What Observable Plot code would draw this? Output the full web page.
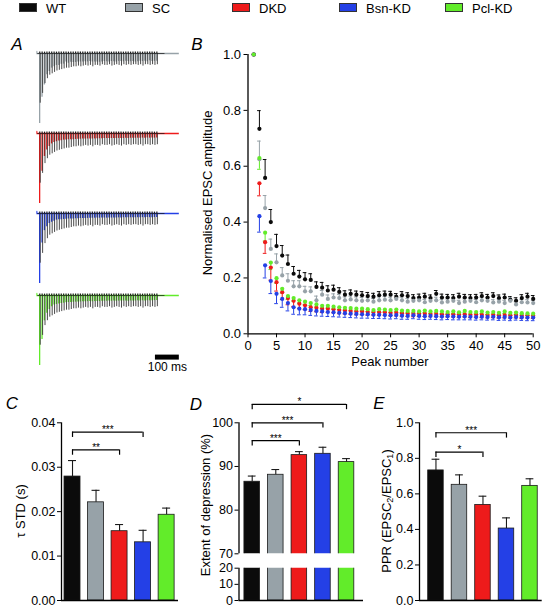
<!DOCTYPE html>
<html><head><meta charset="utf-8">
<script src="https://cdn.jsdelivr.net/npm/d3@7"></script>
<script src="https://cdn.jsdelivr.net/npm/@observablehq/plot@0.6"></script>
<style>
body{margin:0;background:#fff;font-family:"Liberation Sans",Arial,Helvetica,sans-serif;}
#fig{position:relative;width:545px;height:607px;overflow:hidden;background:#fff;}
.t{position:absolute;font-size:13px;line-height:1;white-space:nowrap;color:#000;transform:translate(-50%,-50%);}
.rot{transform:translate(-50%,-50%) rotate(-90deg);}
.pl{position:absolute;font-size:17px;font-style:italic;line-height:1;transform:translate(-50%,-50%);color:#000;}
.sw{position:absolute;width:16px;height:7px;border:1px solid #333;}
sub{font-size:9px;vertical-align:-2px;line-height:0;}
</style></head><body><div id="fig"></div>
<script>
// ---------- data ----------
const groups = ["WT", "SC", "DKD", "Bsn-KD", "Pcl-KD"];
const colors = ["#0b0b0b", "#97a2a8", "#ee1b1b", "#2440e6", "#62ec2a"];
const peakNumbers = d3.range(1, 51);
const xTicksB = [0, 5, 10, 15, 20, 25, 30, 35, 40, 45, 50];
const yTicksB = [0, 0.2, 0.4, 0.6, 0.8, 1.0];

const meanWT = [1.000,0.734,0.558,0.400,0.314,0.280,0.250,0.215,0.205,0.195,
0.193,0.168,0.165,0.155,0.158,0.150,0.140,0.143,0.140,0.138,
0.135,0.133,0.138,0.140,0.140,0.132,0.138,0.135,0.128,0.130,
0.133,0.128,0.143,0.130,0.130,0.128,0.133,0.130,0.128,0.130,
0.135,0.130,0.135,0.128,0.130,0.122,0.118,0.128,0.133,0.125];
const semWT = [0,0.065,0.066,0.045,0.042,0.036,0.032,0.026,0.022,0.024,
0.022,0.018,0.019,0.017,0.016,0.015,0.014,0.014,0.013,0.013,
0.013,0.012,0.013,0.013,0.012,0.012,0.013,0.012,0.012,0.012,
0.012,0.011,0.012,0.012,0.011,0.012,0.012,0.011,0.012,0.011,
0.012,0.011,0.012,0.011,0.012,0.011,0.011,0.012,0.012,0.012];
const meanSC = [1.000,0.625,0.450,0.304,0.256,0.209,0.190,0.170,0.170,0.152,
0.152,0.120,0.140,0.125,0.130,0.128,0.120,0.123,0.120,0.118,
0.120,0.115,0.120,0.122,0.120,0.125,0.120,0.115,0.118,0.120,
0.113,0.118,0.120,0.112,0.115,0.118,0.110,0.115,0.118,0.113,
0.120,0.118,0.112,0.115,0.110,0.118,0.105,0.113,0.112,0.110];
const semSC = [0,0.065,0.045,0.035,0.030,0.028,0.025,0.020,0.020,0.018,
0.016,0.015,0.015,0.014,0.013,0.013,0.012,0.012,0.012,0.012,
0.011,0.011,0.012,0.011,0.011,0.012,0.011,0.011,0.011,0.011,
0.010,0.011,0.011,0.010,0.010,0.011,0.010,0.010,0.011,0.010,
0.011,0.010,0.010,0.010,0.010,0.011,0.010,0.010,0.010,0.010];
const meanDKD = [1.000,0.539,0.328,0.237,0.185,0.149,0.128,0.118,0.108,0.102,
0.095,0.093,0.090,0.090,0.088,0.085,0.083,0.082,0.080,0.080,
0.078,0.078,0.077,0.077,0.075,0.075,0.074,0.073,0.072,0.073,
0.072,0.071,0.071,0.070,0.070,0.070,0.069,0.070,0.068,0.069,
0.068,0.067,0.068,0.066,0.067,0.066,0.067,0.065,0.066,0.065];
const semDKD = [0,0.045,0.040,0.045,0.032,0.026,0.024,0.020,0.018,0.016,
0.015,0.014,0.014,0.013,0.013,0.013,0.012,0.012,0.012,0.012,
0.012,0.011,0.011,0.011,0.011,0.011,0.011,0.011,0.011,0.011,
0.010,0.010,0.010,0.010,0.010,0.010,0.010,0.010,0.010,0.010,
0.010,0.010,0.010,0.010,0.010,0.010,0.010,0.010,0.010,0.010];
const meanBsn = [1.000,0.421,0.245,0.189,0.143,0.125,0.110,0.095,0.090,0.088,
0.085,0.082,0.080,0.078,0.077,0.075,0.074,0.072,0.071,0.070,
0.070,0.068,0.068,0.067,0.066,0.067,0.065,0.064,0.066,0.064,
0.063,0.064,0.063,0.062,0.063,0.062,0.061,0.062,0.061,0.060,
0.061,0.060,0.061,0.059,0.060,0.058,0.060,0.059,0.058,0.058];
const semBsn = [0,0.057,0.045,0.045,0.035,0.030,0.028,0.025,0.022,0.020,
0.019,0.018,0.017,0.016,0.016,0.015,0.015,0.014,0.014,0.014,
0.014,0.013,0.013,0.013,0.013,0.013,0.013,0.012,0.012,0.012,
0.012,0.012,0.012,0.012,0.012,0.012,0.011,0.012,0.011,0.011,
0.011,0.011,0.011,0.011,0.011,0.011,0.011,0.011,0.011,0.011];
const meanPcl = [1.000,0.629,0.362,0.255,0.199,0.161,0.135,0.128,0.120,0.115,
0.110,0.105,0.100,0.100,0.097,0.095,0.093,0.092,0.090,0.090,
0.088,0.085,0.088,0.087,0.085,0.087,0.083,0.082,0.082,0.080,
0.083,0.080,0.082,0.080,0.078,0.080,0.077,0.082,0.078,0.078,
0.080,0.076,0.078,0.075,0.080,0.075,0.076,0.074,0.073,0.072];
const semPcl = [0,0.040,0.030,0.025,0.018,0.015,0.012,0.011,0.010,0.010,
0.009,0.009,0.009,0.008,0.008,0.008,0.008,0.008,0.008,0.008,
0.008,0.008,0.008,0.008,0.008,0.008,0.007,0.007,0.007,0.007,
0.007,0.007,0.007,0.007,0.007,0.007,0.007,0.007,0.007,0.007,
0.007,0.007,0.007,0.007,0.007,0.007,0.007,0.007,0.007,0.007];
const errDirection = [1, 1, -1, -1, -1]; // error bars drawn up (WT, SC) or down

// example WT trace (panel A), peak amplitudes relative to overlaid trace's first EPSC
const traceWT = [0.71,0.57,0.43,0.36,0.31,0.29,0.27,0.25,0.24,0.23,
0.22,0.21,0.21,0.20,0.19,0.19,0.18,0.19,0.18,0.17,
0.18,0.17,0.19,0.17,0.17,0.18,0.16,0.17,0.17,0.16,
0.18,0.17,0.16,0.17,0.18,0.16,0.17,0.16,0.17,0.16,
0.16,0.17,0.16,0.18,0.16,0.16,0.17,0.16,0.17,0.16];
const stimIntervalMs = 10;
const scaleBarMs = 100;

// panels C, D, E
const tauSTD = [0.0279, 0.0221, 0.0156, 0.0131, 0.0193];
const tauSEM = [0.0036, 0.0027, 0.0015, 0.0027, 0.0015];
const depression = [86.5, 88.1, 92.6, 92.9, 91.0];
const depressionSEM = [1.3, 1.2, 0.8, 1.5, 0.8];
const ppr = [0.732, 0.651, 0.538, 0.405, 0.645];
const pprSEM = [0.063, 0.056, 0.049, 0.060, 0.040];
const sigC = [{from: 0, to: 3, level: 0.0379, label: "***"}, {from: 0, to: 2, level: 0.0339, label: "**"}];
const sigD = [{from: 0, to: 4, level: 104.2, label: "*"}, {from: 0, to: 3, level: 100.0, label: "***"}, {from: 0, to: 2, level: 95.9, label: "***"}];
const sigE = [{from: 0, to: 3, level: 0.944, label: "***"}, {from: 0, to: 2, level: 0.835, label: "*"}];

// ---------- helpers ----------
const FONT = '"Liberation Sans", Arial, Helvetica, sans-serif';
const fig = document.getElementById("fig");
const baseStyle = {fontFamily: FONT, fontSize: "13px", overflow: "visible", background: "none", color: "#000"};
const smallStyle = {...baseStyle, fontSize: "12.5px"};
function place(el, left, top) {
  el.style.position = "absolute";
  el.style.left = left + "px";
  el.style.top = top + "px";
  el.style.maxWidth = "none";
  el.style.background = "none";
  fig.appendChild(el);
}
function html(cls, content, cx, cy) {
  const d = document.createElement("div");
  d.className = cls;
  d.innerHTML = content;
  d.style.left = cx + "px";
  d.style.top = cy + "px";
  fig.appendChild(d);
  return d;
}

// ---------- legend ----------
const legendX = [19, 125, 232, 339, 445];
groups.forEach((g, i) => {
  const s = document.createElement("div");
  s.className = "sw";
  s.style.left = legendX[i] + "px";
  s.style.top = "3px";
  s.style.background = colors[i];
  fig.appendChild(s);
  const t = document.createElement("div");
  t.className = "t";
  t.textContent = g;
  t.style.transform = "translate(0,-50%)";
  t.style.left = (legendX[i] + 27) + "px";
  t.style.top = "7.5px";
  fig.appendChild(t);
});

// ---------- panel A: example traces ----------
const pulses = peakNumbers.map((n, i) => ({i, t: (n - 1) * stimIntervalMs}));
const traceEndMs = 588;
const condMeans = [meanWT, meanSC, meanDKD, meanBsn, meanPcl];
const traceBaselines = [53, 133, 213, 295];
[1, 2, 3, 4].forEach((k, j) => {
  const last = k === 4;
  const H = last ? 92 : 82;
  const amps = condMeans[k];
  const marks = [
    Plot.ruleY([0], {x1: -8, x2: traceEndMs, stroke: colors[k], strokeWidth: 1.7}),
    Plot.ruleX(pulses, {x: d => d.t + 3.5, y1: 0, y2: d => -amps[d.i], stroke: colors[k], strokeWidth: 1.3}),
    Plot.ruleX(pulses, {x: d => d.t + 6, y1: 0, y2: d => -traceWT[d.i], stroke: "#2a2a2a", strokeWidth: 0.85}),
    Plot.ruleY([0], {x1: -4, x2: traceEndMs - 60, stroke: "#1a1a1a", strokeWidth: 0.7}),
    Plot.ruleX(pulses, {x: d => d.t + 4, y1: 0, y2: 0.02, stroke: "#1a1a1a", strokeWidth: 1.2}),
    Plot.ruleX([-8], {y1: 0, y2: 0.03, stroke: colors[k], strokeWidth: 1})
  ];
  if (last) {
    marks.push(Plot.ruleY([-0.88], {x1: traceEndMs - scaleBarMs, x2: traceEndMs, stroke: "#000", strokeWidth: 5}));
    marks.push(Plot.text([scaleBarMs + " ms"], {x: traceEndMs - scaleBarMs / 2, y: -1.03, text: d => d, fontSize: 12, fill: "#000", textAnchor: "middle", lineAnchor: "middle"}));
  }
  const p = Plot.plot({
    width: 190, height: H,
    marginLeft: 38.3, marginRight: 8.3, marginTop: 4, marginBottom: H - 74,
    x: {domain: [0, 600], axis: null},
    y: {domain: [-1, 0], axis: null},
    style: baseStyle,
    marks
  });
  place(p, 0, traceBaselines[j] - 4);
});

// ---------- panel B ----------
const seriesB = [];
[[meanWT, semWT], [meanSC, semSC], [meanDKD, semDKD], [meanBsn, semBsn], [meanPcl, semPcl]].forEach(([m, s], gi) => {
  peakNumbers.forEach((n, i) => seriesB.push({g: groups[gi], n, mean: m[i], sem: s[i], dir: errDirection[gi]}));
});
const capB = 0.32;
const plotB = Plot.plot({
  width: 365, height: 340,
  marginLeft: 67.5, marginRight: 12.3, marginTop: 24, marginBottom: 36.7,
  x: {domain: [0, 50], ticks: xTicksB, tickSize: 4, tickPadding: 3, label: null},
  y: {domain: [0, 1], ticks: yTicksB, tickSize: 4, tickPadding: 3, tickFormat: d3.format(".1f"), label: null},
  color: {domain: groups, range: colors},
  style: baseStyle,
  marks: [
    Plot.ruleX(seriesB, {x: "n", y1: "mean", y2: d => d.mean + d.dir * d.sem, stroke: "g", strokeWidth: 1}),
    Plot.ruleY(seriesB.filter(d => d.sem > 0), {y: d => d.mean + d.dir * d.sem, x1: d => d.n - capB, x2: d => d.n + capB, stroke: "g", strokeWidth: 1}),
    Plot.dot(seriesB, {x: "n", y: "mean", r: 2.1, fill: "g", stroke: "none"}),
    Plot.ruleX([0], {y1: 0, y2: 1, stroke: "#000", strokeWidth: 1.3}),
    Plot.ruleY([0], {x1: 0, x2: 50, stroke: "#000", strokeWidth: 1.3})
  ]
});
place(plotB, 180, 30);

// ---------- bar panels ----------
function barMarks(values, sems, sig, drop, half, clip, withExtras) {
  const rows = groups.map((g, i) => ({g, i, v: values[i], e: sems[i]}));
  const m = [Plot.rectY(rows, {x1: d => d.i - half, x2: d => d.i + half, y1: 0, y2: "v", fill: "g", stroke: "#1a1a1a", strokeWidth: 0.8, clip})];
  if (withExtras) {
    m.push(Plot.ruleX(rows, {x: "i", y1: "v", y2: d => d.v + d.e, stroke: "#1a1a1a", strokeWidth: 1.1}));
    m.push(Plot.ruleY(rows, {y: d => d.v + d.e, x1: d => d.i - half * 0.5, x2: d => d.i + half * 0.5, stroke: "#1a1a1a", strokeWidth: 1.1}));
    m.push(Plot.ruleY(sig, {y: "level", x1: "from", x2: "to", stroke: "#000", strokeWidth: 1.2}));
    m.push(Plot.ruleX(sig, {x: "from", y1: "level", y2: d => d.level - drop, stroke: "#000", strokeWidth: 1.2}));
    m.push(Plot.ruleX(sig, {x: "to", y1: "level", y2: d => d.level - drop, stroke: "#000", strokeWidth: 1.2}));
    m.push(Plot.text(sig, {x: d => (d.from + d.to) / 2, y: "level", text: "label", fontSize: 10, fill: "#000", lineAnchor: "bottom", dy: 1}));
  }
  return m;
}

// C
const plotC = Plot.plot({
  width: 185, height: 200, marginLeft: 61, marginRight: 7, marginTop: 12.3, marginBottom: 10,
  x: {domain: [-0.468, 4.505], axis: null},
  y: {domain: [0, 0.04], ticks: [0, 0.01, 0.02, 0.03, 0.04], tickFormat: d3.format(".2f"), tickSize: 4, tickPadding: 2, label: null},
  color: {domain: groups, range: colors},
  style: smallStyle,
  marks: [
    ...barMarks(tauSTD, tauSEM, sigC, 0.0012, 0.34, false, true),
    Plot.ruleX([-0.468], {y1: 0, y2: 0.04, stroke: "#000", strokeWidth: 1.3}),
    Plot.ruleY([0], {stroke: "#000", strokeWidth: 1.3})
  ]
});
place(plotC, 0, 410);

// D (broken axis: upper 70-100, lower 0-20)
const plotDup = Plot.plot({
  width: 185, height: 160, marginLeft: 58.5, marginRight: 2, marginTop: 27.3, marginBottom: 1.7,
  x: {domain: [-0.56, 4.72], axis: null},
  y: {domain: [70, 100], ticks: [70, 80, 90, 100], tickSize: 4, tickPadding: 2, label: null},
  color: {domain: groups, range: colors},
  style: smallStyle,
  marks: [
    ...barMarks(depression, depressionSEM, sigD, 1.2, 0.33, true, true),
    Plot.ruleX([-0.56], {y1: 70, y2: 100, stroke: "#000", strokeWidth: 1.3})
  ]
});
place(plotDup, 180, 395);
const plotDlow = Plot.plot({
  width: 185, height: 45, marginLeft: 58.5, marginRight: 2, marginTop: 7.7, marginBottom: 5,
  x: {domain: [-0.56, 4.72], axis: null},
  y: {domain: [0, 20], ticks: [0, 10, 20], tickSize: 4, tickPadding: 2, label: null},
  color: {domain: groups, range: colors},
  style: smallStyle,
  marks: [
    ...barMarks(depression, depressionSEM, [], 0, 0.33, true, false),
    Plot.ruleX([-0.56], {y1: 0, y2: 20, stroke: "#000", strokeWidth: 1.3}),
    Plot.ruleY([0], {stroke: "#000", strokeWidth: 1.3})
  ]
});
place(plotDlow, 180, 560);

// E
const plotE = Plot.plot({
  width: 185, height: 200, marginLeft: 59, marginRight: 3.3, marginTop: 12.3, marginBottom: 10,
  x: {domain: [-0.70, 4.52], axis: null},
  y: {domain: [0, 1], ticks: [0, 0.2, 0.4, 0.6, 0.8, 1.0], tickFormat: d3.format(".1f"), tickSize: 4, tickPadding: 2, label: null},
  color: {domain: groups, range: colors},
  style: smallStyle,
  marks: [
    ...barMarks(ppr, pprSEM, sigE, 0.03, 0.33, false, true),
    Plot.ruleX([-0.70], {y1: 0, y2: 1, stroke: "#000", strokeWidth: 1.3}),
    Plot.ruleY([0], {stroke: "#000", strokeWidth: 1.3})
  ]
});
place(plotE, 360, 410);

// ---------- text ----------
html("pl", "A", 17, 44);
html("pl", "B", 197, 44);
html("pl", "C", 12, 403);
html("pl", "D", 196, 404);
html("pl", "E", 379, 403);
html("t rot", "Normalised EPSC amplitude", 207, 193);
html("t", "Peak number", 390, 361);
html("t rot", "τ STD (s)", 20, 511);
html("t rot", "Extent of depression (%)", 205, 505);
html("t rot", "PPR (EPSC<sub>2</sub>/EPSC<sub>1</sub>)", 386, 511);
</script></body></html>
